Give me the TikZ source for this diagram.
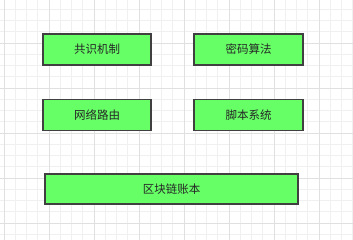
\documentclass[tikz,border=0pt]{standalone}
\usepackage{fontspec}
\newfontfamily\cjk{Noto Sans CJK SC}
\definecolor{blockgreen}{HTML}{66FF66}
\begin{document}
\begin{tikzpicture}[x=1pt, y=-1pt,
    block/.style={rectangle, draw=black!75, line width=1.2pt,
                  fill=blockgreen, minimum height=31pt, inner sep=0pt,
                  font=\cjk\fontsize{11.5}{13}\selectfont, text=black!85},
    minorline/.style={draw=black!6, line width=0.8pt},
    majorline/.style={draw=black!12, line width=0.8pt},
]
  % ---- canvas ----
  \fill[white] (0,0) rectangle (353,240);
  \useasboundingbox (0,0) rectangle (353,240);
  \begin{scope}
    \clip (0,0) rectangle (353,240);
    \foreach \i in {0,...,31}
      \draw[minorline] ({4+11.25*\i},0) -- ({4+11.25*\i},240);
    \foreach \j in {0,...,20}
      \draw[minorline] (0,{9.25+11.25*\j}) -- (353,{9.25+11.25*\j});
    \foreach \i in {0,...,7}
      \draw[majorline] ({4+45*\i},0) -- ({4+45*\i},240);
    \foreach \j in {0,...,4}
      \draw[majorline] (0,{43+45*\j}) -- (353,{43+45*\j});
  \end{scope}

  % ---- upper blocks ----
  \node[block, minimum width=108pt] (consensus) at (97,49.5)  {共识机制};
  \node[block, minimum width=109pt] (crypto)    at (248.5,49.5) {密码算法};

  % ---- middle blocks ----
  \node[block, minimum width=108pt] (routing)   at (97,115)   {网络路由};
  \node[block, minimum width=109pt] (script)    at (248.5,115) {脚本系统};

  % ---- ledger ----
  \node[block, minimum width=253pt, minimum height=30pt] (ledger) at (171.5,189) {区块链账本};
\end{tikzpicture}
\end{document}
